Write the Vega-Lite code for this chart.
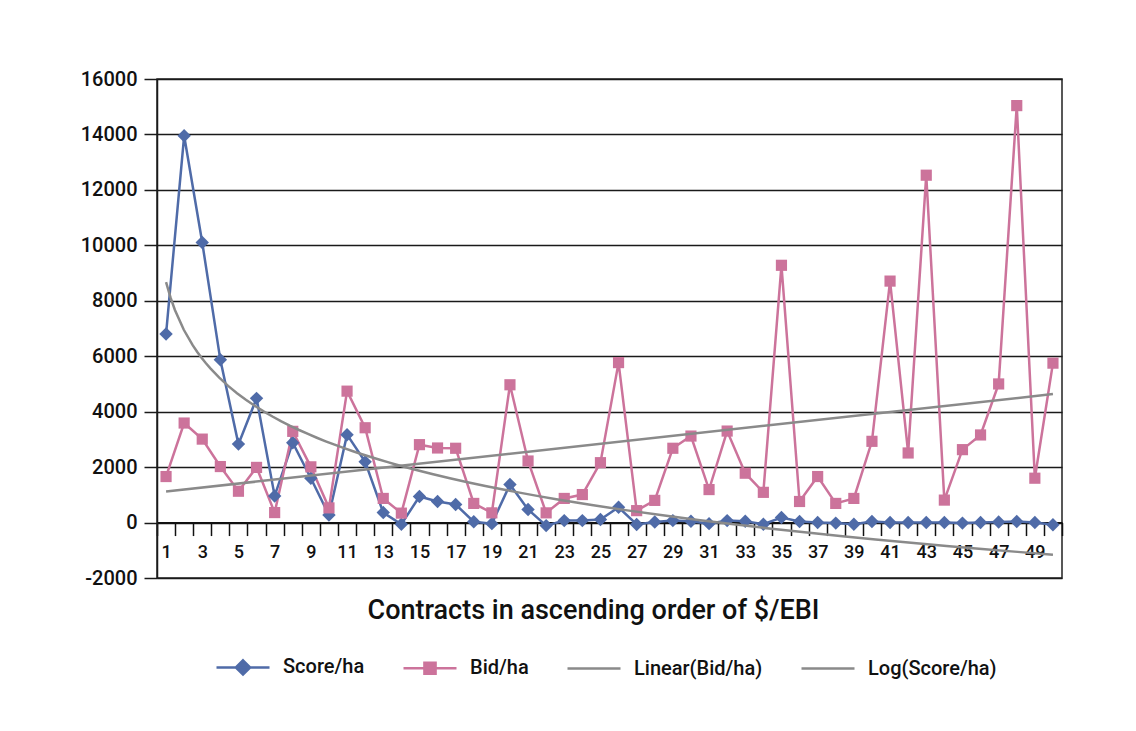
{
  "$schema": "https://vega.github.io/schema/vega-lite/v6.json",
  "width": 905,
  "height": 499,
  "autosize": "none",
  "padding": {"left": 157, "top": 79, "right": 74, "bottom": 153},
  "background": "white",
  "datasets": {
    "rows": [
      {"n": 1, "series": "Score/ha", "value": 6800}, {"n": 2, "series": "Score/ha", "value": 13950}, {"n": 3, "series": "Score/ha", "value": 10100}, {"n": 4, "series": "Score/ha", "value": 5870}, {"n": 5, "series": "Score/ha", "value": 2830},
      {"n": 6, "series": "Score/ha", "value": 4480}, {"n": 7, "series": "Score/ha", "value": 960}, {"n": 8, "series": "Score/ha", "value": 2880}, {"n": 9, "series": "Score/ha", "value": 1600}, {"n": 10, "series": "Score/ha", "value": 270},
      {"n": 11, "series": "Score/ha", "value": 3170}, {"n": 12, "series": "Score/ha", "value": 2190}, {"n": 13, "series": "Score/ha", "value": 360}, {"n": 14, "series": "Score/ha", "value": -60}, {"n": 15, "series": "Score/ha", "value": 940},
      {"n": 16, "series": "Score/ha", "value": 760}, {"n": 17, "series": "Score/ha", "value": 650}, {"n": 18, "series": "Score/ha", "value": 30}, {"n": 19, "series": "Score/ha", "value": -40}, {"n": 20, "series": "Score/ha", "value": 1370},
      {"n": 21, "series": "Score/ha", "value": 470}, {"n": 22, "series": "Score/ha", "value": -110}, {"n": 23, "series": "Score/ha", "value": 70}, {"n": 24, "series": "Score/ha", "value": 70}, {"n": 25, "series": "Score/ha", "value": 110},
      {"n": 26, "series": "Score/ha", "value": 550}, {"n": 27, "series": "Score/ha", "value": -70}, {"n": 28, "series": "Score/ha", "value": 20}, {"n": 29, "series": "Score/ha", "value": 70}, {"n": 30, "series": "Score/ha", "value": 50},
      {"n": 31, "series": "Score/ha", "value": -40}, {"n": 32, "series": "Score/ha", "value": 70}, {"n": 33, "series": "Score/ha", "value": 50}, {"n": 34, "series": "Score/ha", "value": -60}, {"n": 35, "series": "Score/ha", "value": 180},
      {"n": 36, "series": "Score/ha", "value": 40}, {"n": 37, "series": "Score/ha", "value": 0}, {"n": 38, "series": "Score/ha", "value": -20}, {"n": 39, "series": "Score/ha", "value": -60}, {"n": 40, "series": "Score/ha", "value": 40},
      {"n": 41, "series": "Score/ha", "value": 0}, {"n": 42, "series": "Score/ha", "value": 0}, {"n": 43, "series": "Score/ha", "value": 0}, {"n": 44, "series": "Score/ha", "value": 0}, {"n": 45, "series": "Score/ha", "value": -20},
      {"n": 46, "series": "Score/ha", "value": 0}, {"n": 47, "series": "Score/ha", "value": 20}, {"n": 48, "series": "Score/ha", "value": 40}, {"n": 49, "series": "Score/ha", "value": 0}, {"n": 50, "series": "Score/ha", "value": -80},
      {"n": 1, "series": "Bid/ha", "value": 1660}, {"n": 2, "series": "Bid/ha", "value": 3590}, {"n": 3, "series": "Bid/ha", "value": 3010}, {"n": 4, "series": "Bid/ha", "value": 2020}, {"n": 5, "series": "Bid/ha", "value": 1130},
      {"n": 6, "series": "Bid/ha", "value": 1990}, {"n": 7, "series": "Bid/ha", "value": 360}, {"n": 8, "series": "Bid/ha", "value": 3290}, {"n": 9, "series": "Bid/ha", "value": 2010}, {"n": 10, "series": "Bid/ha", "value": 530},
      {"n": 11, "series": "Bid/ha", "value": 4740}, {"n": 12, "series": "Bid/ha", "value": 3420}, {"n": 13, "series": "Bid/ha", "value": 870}, {"n": 14, "series": "Bid/ha", "value": 340}, {"n": 15, "series": "Bid/ha", "value": 2810},
      {"n": 16, "series": "Bid/ha", "value": 2690}, {"n": 17, "series": "Bid/ha", "value": 2680}, {"n": 18, "series": "Bid/ha", "value": 690}, {"n": 19, "series": "Bid/ha", "value": 350}, {"n": 20, "series": "Bid/ha", "value": 4970},
      {"n": 21, "series": "Bid/ha", "value": 2220}, {"n": 22, "series": "Bid/ha", "value": 350}, {"n": 23, "series": "Bid/ha", "value": 870}, {"n": 24, "series": "Bid/ha", "value": 1010}, {"n": 25, "series": "Bid/ha", "value": 2160},
      {"n": 26, "series": "Bid/ha", "value": 5770}, {"n": 27, "series": "Bid/ha", "value": 430}, {"n": 28, "series": "Bid/ha", "value": 800}, {"n": 29, "series": "Bid/ha", "value": 2680}, {"n": 30, "series": "Bid/ha", "value": 3120},
      {"n": 31, "series": "Bid/ha", "value": 1190}, {"n": 32, "series": "Bid/ha", "value": 3300}, {"n": 33, "series": "Bid/ha", "value": 1780}, {"n": 34, "series": "Bid/ha", "value": 1090}, {"n": 35, "series": "Bid/ha", "value": 9280},
      {"n": 36, "series": "Bid/ha", "value": 760}, {"n": 37, "series": "Bid/ha", "value": 1660}, {"n": 38, "series": "Bid/ha", "value": 690}, {"n": 39, "series": "Bid/ha", "value": 870}, {"n": 40, "series": "Bid/ha", "value": 2930},
      {"n": 41, "series": "Bid/ha", "value": 8710}, {"n": 42, "series": "Bid/ha", "value": 2510}, {"n": 43, "series": "Bid/ha", "value": 12530}, {"n": 44, "series": "Bid/ha", "value": 810}, {"n": 45, "series": "Bid/ha", "value": 2630},
      {"n": 46, "series": "Bid/ha", "value": 3160}, {"n": 47, "series": "Bid/ha", "value": 5000}, {"n": 48, "series": "Bid/ha", "value": 15040}, {"n": 49, "series": "Bid/ha", "value": 1600}, {"n": 50, "series": "Bid/ha", "value": 5750}
    ]
  },
  "data": {"name": "rows"},
  "layer": [
    {
      "mark": {"type": "line", "strokeWidth": 2.5},
      "encoding": {
        "x": {
          "field": "n", "type": "ordinal",
          "scale": {"type": "band", "paddingInner": 0, "paddingOuter": 0},
          "axis": {
            "orient": "bottom", "offset": -55.44, "tickBand": "extent",
            "labelExpr": "datum.value % 2 == 1 ? datum.label : ''",
            "labelAngle": 0, "tickSize": 13, "labelPadding": 8, "labelFontSize": 18, "labelFontWeight": 500, "labelColor": "#111",
            "domainColor": "#111", "domainWidth": 2, "tickColor": "#111", "tickWidth": 1.5, "grid": false,
            "title": "Contracts in ascending order of $/EBI", "titleFontSize": 27, "titleFontWeight": 500, "titleColor": "#111",
            "titleX": 436, "titleY": 96, "titleBaseline": "alphabetic", "titleAlign": "center"
          }
        },
        "y": {
          "field": "value", "type": "quantitative",
          "scale": {"domain": [-2000, 16000], "nice": false, "zero": false},
          "axis": {
            "values": [-2000, 0, 2000, 4000, 6000, 8000, 10000, 12000, 14000, 16000],
            "labelExpr": "'' + datum.value",
            "title": null, "grid": true, "gridColor": "#1a1a1a", "gridWidth": 1.5,
            "domainColor": "#1a1a1a", "domainWidth": 1.5, "tickColor": "#1a1a1a", "tickWidth": 1.5, "tickSize": 13,
            "labelFontSize": 20, "labelFontWeight": 500, "labelColor": "#111", "labelPadding": 7
          }
        },
        "color": {
          "field": "series", "type": "nominal",
          "scale": {"domain": ["Score/ha", "Bid/ha", "Linear(Bid/ha)", "Log(Score/ha)"], "range": ["#4f6ba8", "#cc739b", "#8a8a8a", "#8a8a8a"]},
          "legend": {
            "title": null, "orient": "none", "legendX": 58, "legendY": 560, "direction": "horizontal",
            "symbolSize": 2809, "symbolStrokeWidth": 2.5, "labelFontSize": 20, "labelFontWeight": 500, "labelColor": "#111",
            "labelOffset": 12, "columnPadding": 33,
            "encode": {
              "symbols": {
                "update": {
                  "shape": {"signal": "datum.value === 'Score/ha' ? 'M-1,0H1M0,-0.27L0.27,0L0,0.27L-0.27,0Z' : datum.value === 'Bid/ha' ? 'M-1,0H1M-0.21,-0.21H0.21V0.21H-0.21Z' : 'M-1,0H1'"},
                  "fill": {"signal": "scale('color', datum.value)"},
                  "stroke": {"signal": "scale('color', datum.value)"},
                  "fillOpacity": {"value": 1},
                  "opacity": {"value": 1},
                  "strokeWidth": {"value": 2.5}
                }
              }
            }
          }
        }
      }
    },
    {
      "mark": {"type": "point", "filled": true, "opacity": 1},
      "encoding": {
        "x": {
          "field": "n", "type": "ordinal",
          "scale": {"type": "band", "paddingInner": 0, "paddingOuter": 0},
          "axis": null
        },
        "y": {"field": "value", "type": "quantitative"},
        "color": {"field": "series", "type": "nominal"},
        "shape": {"field": "series", "type": "nominal", "scale": {"domain": ["Score/ha", "Bid/ha"], "range": ["diamond", "square"]}, "legend": null},
        "size": {"field": "series", "type": "nominal", "scale": {"domain": ["Score/ha", "Bid/ha"], "range": [180, 125]}, "legend": null}
      }
    },
    {
      "transform": [
        {"filter": "datum.series === 'Bid/ha'"},
        {"regression": "value", "on": "n", "method": "linear"}
      ],
      "mark": {"type": "line", "strokeWidth": 2.5},
      "encoding": {
        "x": {"field": "n", "type": "quantitative", "scale": {"domain": [0.5, 50.5], "nice": false, "zero": false}, "axis": null},
        "y": {"field": "value", "type": "quantitative"},
        "color": {"datum": "Linear(Bid/ha)"}
      }
    },
    {
      "transform": [
        {"filter": "datum.series === 'Score/ha'"},
        {"regression": "value", "on": "n", "method": "log"}
      ],
      "mark": {"type": "line", "strokeWidth": 2.5},
      "encoding": {
        "x": {"field": "n", "type": "quantitative", "scale": {"domain": [0.5, 50.5], "nice": false, "zero": false}, "axis": null},
        "y": {"field": "value", "type": "quantitative"},
        "color": {"datum": "Log(Score/ha)"}
      }
    }
  ],
  "resolve": {"scale": {"x": "independent"}},
  "config": {
    "font": "Roboto",
    "view": {"stroke": "#222", "strokeWidth": 1.5}
  }
}
